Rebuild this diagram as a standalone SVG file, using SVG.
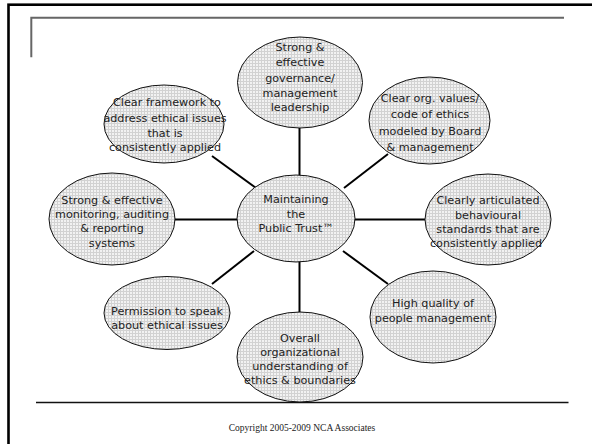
<svg xmlns="http://www.w3.org/2000/svg" width="592" height="444" viewBox="0 0 592 444">
<defs>
<pattern id="grid" width="3" height="3" patternUnits="userSpaceOnUse">
<rect width="3" height="3" fill="#f2f2f2"/>
<path d="M0 0.5H3M0.5 0V3" stroke="#d2d2d2" stroke-width="1"/>
</pattern>
<style>
.node ellipse{fill:url(#grid);stroke:#111;stroke-width:1}
.node text{font-family:"DejaVu Sans",Verdana,sans-serif;font-size:11.2px;fill:#222;text-anchor:middle}
.conn line{stroke:#000;stroke-width:2}
.copy{font-family:"Liberation Serif","Times New Roman",serif;font-size:9.5px;fill:#222;text-anchor:middle}
</style>
</defs>
<rect width="592" height="444" fill="#fff"/>
<rect x="8.5" y="4.7" width="600" height="460" fill="none" stroke="#000" stroke-width="2.6"/>
<path d="M31.3 57.3V17.7H564" fill="none" stroke="#666" stroke-width="2"/>
<line x1="36" y1="402.5" x2="568.5" y2="402.5" stroke="#111" stroke-width="1.4"/>
<text class="copy" x="302" y="431">Copyright 2005-2009 NCA Associates</text>
<g id="connectors" class="conn">
<line x1="299.5" y1="126" x2="299.5" y2="176"/>
<line x1="212" y1="156" x2="256" y2="188"/>
<line x1="388" y1="154" x2="344" y2="188"/>
<line x1="174" y1="219.5" x2="238" y2="219.5"/>
<line x1="354" y1="219.5" x2="426" y2="219.5"/>
<line x1="212" y1="284" x2="254" y2="251"/>
<line x1="343" y1="251" x2="388" y2="284"/>
<line x1="299.5" y1="261" x2="299.5" y2="313"/>
</g>
<g id="n-governance" class="node">
<ellipse cx="300" cy="82.5" rx="62.5" ry="45.5"/>
<text x="300" y="51">Strong &amp;</text>
<text x="300" y="66">effective</text>
<text x="300" y="82">governance/</text>
<text x="300" y="96.5">management</text>
<text x="300" y="111">leadership</text>
</g>
<g id="n-framework" class="node">
<ellipse cx="164" cy="124" rx="60" ry="39"/>
<text x="167" y="106">Clear framework to</text>
<text x="165" y="122">address ethical issues</text>
<text x="165" y="136.5">that is</text>
<text x="165" y="151">consistently applied</text>
</g>
<g id="n-values" class="node">
<ellipse cx="429.5" cy="120.5" rx="60.5" ry="43.5"/>
<text x="430" y="102">Clear org. values/</text>
<text x="430" y="118">code of ethics</text>
<text x="430" y="134.5">modeled by Board</text>
<text x="430" y="150.5">&amp; management</text>
</g>
<g id="n-monitoring" class="node">
<ellipse cx="112" cy="219" rx="63" ry="46"/>
<text x="112" y="204">Strong &amp; effective</text>
<text x="112" y="218">monitoring, auditing</text>
<text x="112" y="232">&amp; reporting</text>
<text x="112" y="247">systems</text>
</g>
<g id="n-center" class="node">
<ellipse cx="296" cy="218.5" rx="59" ry="43.5"/>
<text x="296" y="203">Maintaining</text>
<text x="296" y="217.5">the</text>
<text x="296" y="232">Public Trust™</text>
</g>
<g id="n-standards" class="node">
<ellipse cx="488" cy="219.5" rx="63" ry="45.5"/>
<text x="488" y="204">Clearly articulated</text>
<text x="488" y="219">behavioural</text>
<text x="488" y="232.5">standards that are</text>
<text x="486" y="247">consistently applied</text>
</g>
<g id="n-permission" class="node">
<ellipse cx="167" cy="313" rx="63" ry="36.5"/>
<text x="167" y="315">Permission to speak</text>
<text x="167" y="329">about ethical issues</text>
</g>
<g id="n-people" class="node">
<ellipse cx="433" cy="317" rx="63" ry="46"/>
<text x="433" y="307">High quality of</text>
<text x="433" y="322">people management</text>
</g>
<g id="n-understanding" class="node">
<ellipse cx="300" cy="357" rx="63" ry="45"/>
<text x="300" y="342">Overall</text>
<text x="300" y="356">organizational</text>
<text x="300" y="369.5">understanding of</text>
<text x="300" y="384">ethics &amp; boundaries</text>
</g>
</svg>
